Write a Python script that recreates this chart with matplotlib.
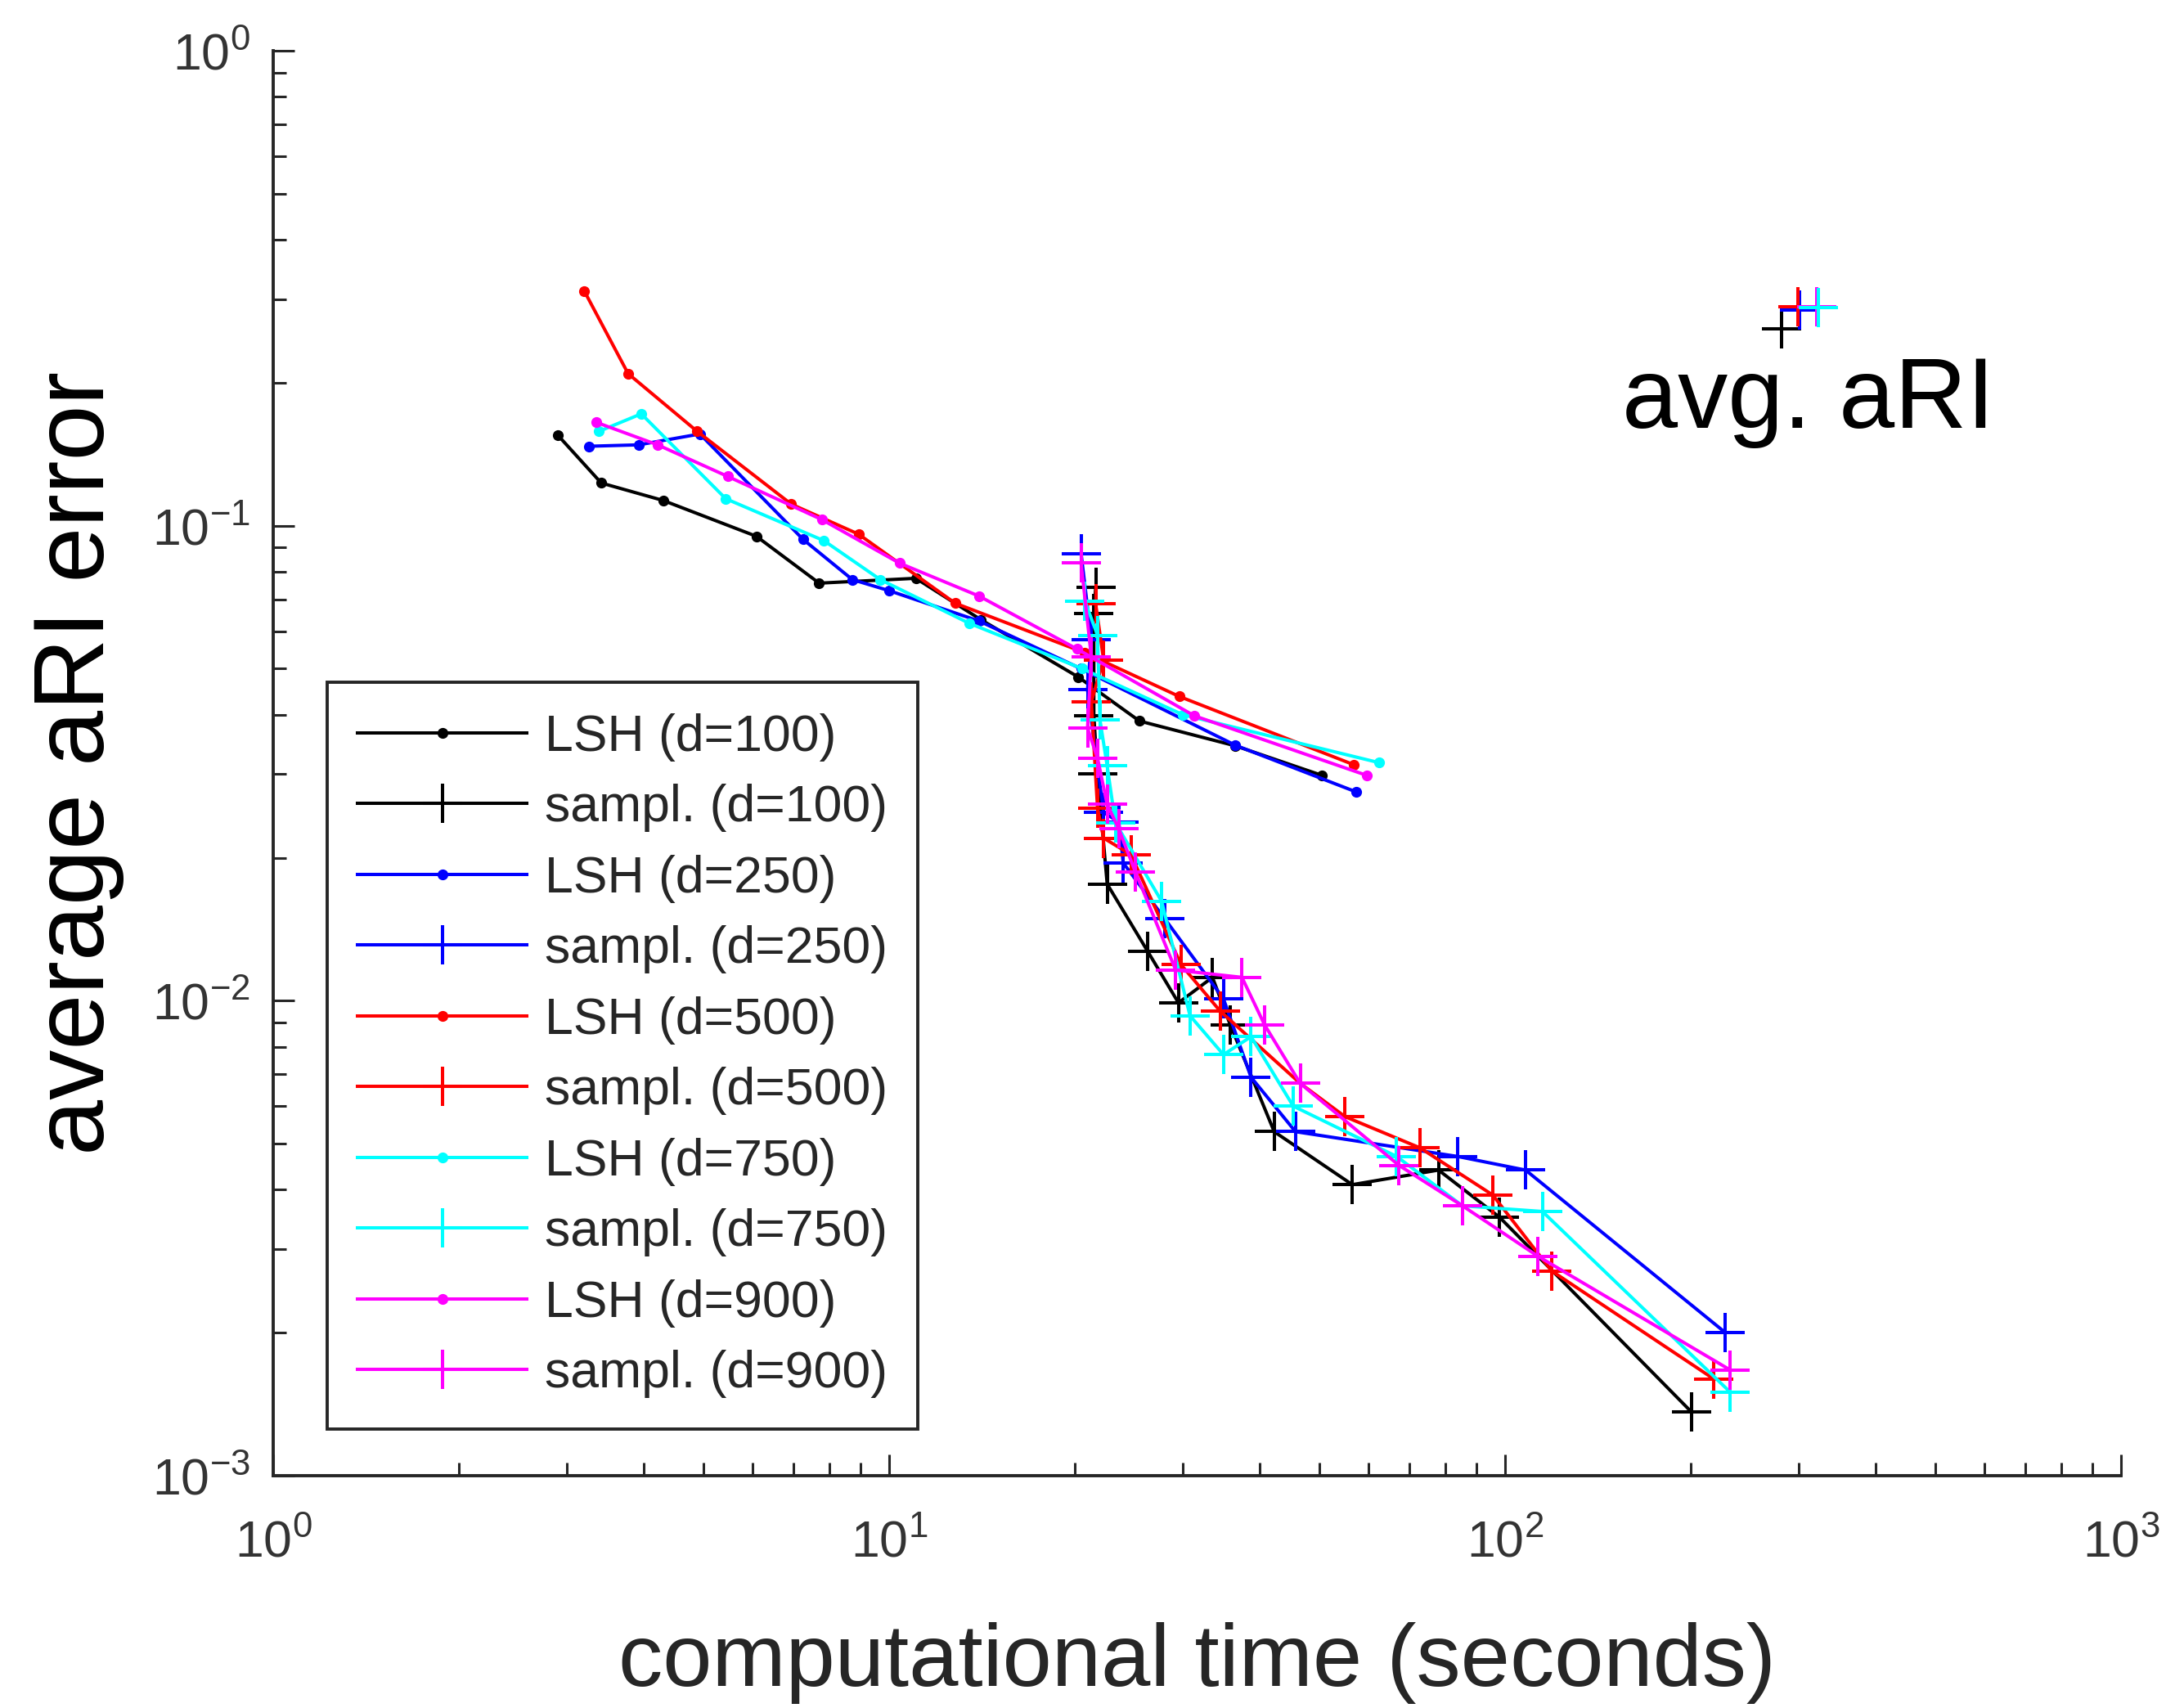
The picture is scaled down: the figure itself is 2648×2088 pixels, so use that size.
import math
import matplotlib
matplotlib.use("Agg")
import matplotlib.pyplot as plt
from matplotlib.ticker import LogLocator, FuncFormatter, NullFormatter

plt.rcParams['font.family'] = ['Liberation Sans', 'DejaVu Sans']
plt.rcParams['mathtext.fontset'] = 'custom'
plt.rcParams['mathtext.rm'] = 'Liberation Sans'
plt.rcParams['mathtext.it'] = 'Liberation Sans'

# LSH curves (time in seconds, average aRI error)
lsh100_t = [2.90, 3.41, 4.30, 6.09, 7.70, 11.05, 14.1, 20.3, 25.5, 36.5, 50.5]
lsh100_e = [0.155, 0.123, 0.113, 0.095, 0.0757, 0.0775, 0.0634, 0.048, 0.0388, 0.0344, 0.0298]
lsh250_t = [3.26, 3.92, 4.93, 7.25, 8.72, 10.0, 14.0, 20.5, 36.5, 57.4]
lsh250_e = [0.147, 0.148, 0.156, 0.0936, 0.077, 0.073, 0.063, 0.050, 0.0345, 0.0275]
lsh500_t = [3.20, 3.77, 4.88, 6.94, 8.92, 12.8, 20.8, 29.6, 56.8]
lsh500_e = [0.312, 0.209, 0.158, 0.111, 0.096, 0.0687, 0.054, 0.0437, 0.0314]
lsh750_t = [3.38, 3.96, 5.43, 7.84, 9.68, 13.5, 20.6, 30.0, 62.5]
lsh750_e = [0.158, 0.172, 0.114, 0.093, 0.077, 0.0623, 0.050, 0.040, 0.0317]
lsh900_t = [3.35, 4.21, 5.47, 7.78, 10.4, 14.0, 20.2, 31.3, 59.7]
lsh900_e = [0.165, 0.148, 0.127, 0.103, 0.0834, 0.0711, 0.055, 0.0398, 0.0298]

# sampling curves
smp100_t = [21.65, 21.5, 21.5, 21.8, 22.6, 26.3, 29.5, 33.5, 35.8, 42.2, 56.5, 78.0, 98.0, 201]
smp100_e = [0.0741, 0.0654, 0.0398, 0.030, 0.0176, 0.0127, 0.0099, 0.0112, 0.0089, 0.0053, 0.0041, 0.0044, 0.0035, 0.00136]
smp250_t = [20.5, 21.3, 21.0, 22.3, 23.6, 24.0, 28.0, 34.9, 38.7, 45.7, 83.8, 108, 228]
smp250_e = [0.0874, 0.0576, 0.0451, 0.0249, 0.0238, 0.0195, 0.0149, 0.0101, 0.0069, 0.0053, 0.0047, 0.0044, 0.0020]
smp500_t = [21.65, 22.3, 21.3, 21.8, 22.3, 24.7, 29.8, 34.5, 46.5, 55.0, 72.8, 95.5, 119, 218]
smp500_e = [0.0684, 0.0522, 0.0426, 0.0254, 0.0220, 0.0203, 0.0119, 0.0095, 0.0067, 0.0057, 0.0049, 0.0039, 0.0027, 0.0016]
smp750_t = [20.8, 21.8, 22.0, 22.6, 23.3, 27.7, 30.8, 34.9, 38.7, 45.3, 66.7, 85.3, 115, 232]
smp750_e = [0.0693, 0.0588, 0.039, 0.0312, 0.0237, 0.0162, 0.0093, 0.0077, 0.0084, 0.0060, 0.0047, 0.0037, 0.0036, 0.0015]
smp900_t = [20.5, 21.3, 21.0, 21.8, 22.6, 23.6, 25.1, 29.2, 37.4, 40.7, 46.5, 67.3, 85.3, 113, 232]
smp900_e = [0.0834, 0.053, 0.0375, 0.0324, 0.0259, 0.0230, 0.0187, 0.0116, 0.0112, 0.0089, 0.0067, 0.0045, 0.0037, 0.0029, 0.00167]

# "avg. aRI" markers, top right
avg_t = [281, 301, 299, 323, 321]
avg_e = [0.260, 0.285, 0.289, 0.288, 0.289]

dims = ['100', '250', '500', '750', '900']
colors = ['#000000', '#0000FF', '#FF0000', '#00FFFF', '#FF00FF']
lsh_t = [lsh100_t, lsh250_t, lsh500_t, lsh750_t, lsh900_t]
lsh_e = [lsh100_e, lsh250_e, lsh500_e, lsh750_e, lsh900_e]
smp_t = [smp100_t, smp250_t, smp500_t, smp750_t, smp900_t]
smp_e = [smp100_e, smp250_e, smp500_e, smp750_e, smp900_e]

fig = plt.figure(figsize=(26.48, 20.88), dpi=100)
ax = fig.add_axes([0.1261, 0.1360, 0.8531, 0.8343])

lw = 2.9
for i in range(5):
    ax.plot(lsh_t[i], lsh_e[i], '-', marker='.', color=colors[i], lw=lw,
            ms=17, label='LSH (d=%s)' % dims[i])
    ax.plot(smp_t[i], smp_e[i], '-', marker='+', color=colors[i], lw=lw,
            ms=34, mew=lw, label='sampl. (d=%s)' % dims[i])

# single markers next to the "avg. aRI" note
for i in [0, 1, 2, 4, 3]:
    ax.plot(avg_t[i], avg_e[i], '+', color=colors[i], ms=34, mew=lw)
ax.text(155, 0.161, 'avg. aRI', fontsize=88, va='baseline', ha='left')

ax.set_xscale('log')
ax.set_yscale('log')
ax.set_xlim(1, 1000)
ax.set_ylim(1e-3, 1)

ax.spines['top'].set_visible(False)
ax.spines['right'].set_visible(False)
for s in ['left', 'bottom']:
    ax.spines[s].set_linewidth(2.8)
    ax.spines[s].set_color('#262626')

ax.xaxis.set_major_locator(LogLocator(base=10, numticks=10))
ax.yaxis.set_major_locator(LogLocator(base=10, numticks=10))
ax.xaxis.set_minor_locator(LogLocator(base=10, subs=range(2, 10), numticks=40))
ax.yaxis.set_minor_locator(LogLocator(base=10, subs=range(2, 10), numticks=40))
fmt = FuncFormatter(lambda v, p: r'$\mathregular{10^{%d}}$' % round(math.log10(v)))
ax.xaxis.set_major_formatter(fmt)
ax.yaxis.set_major_formatter(fmt)
ax.xaxis.set_minor_formatter(NullFormatter())
ax.yaxis.set_minor_formatter(NullFormatter())

ax.tick_params(which='both', direction='in', color='#262626', width=2.2,
               top=False, right=False, labelcolor='#333333')
ax.tick_params(which='major', length=19, labelsize=45)
ax.tick_params(which='minor', length=11.5)
ax.tick_params(axis='x', which='major', pad=38)
ax.tick_params(axis='y', which='major', pad=20)

ax.set_xlabel('computational time (seconds)', fontsize=78, color='#262626')
ax.xaxis.set_label_coords(0.5, -0.1475)
ax.xaxis.label.set_va('baseline')
ax.set_ylabel('average aRI error', fontsize=88, color='#000000')
ax.yaxis.set_label_coords(-0.0916, 0.5)
ax.yaxis.label.set_va('baseline')

leg = ax.legend(loc='upper left', bbox_to_anchor=(0.0292, 0.5568), borderaxespad=0,
                fontsize=45, handlelength=3.3, handletextpad=0.35, borderpad=0.6,
                labelspacing=0.44, numpoints=1, fancybox=False, framealpha=1)
leg.get_frame().set_edgecolor('#262626')
leg.get_frame().set_linewidth(2.8)
for t in leg.get_texts():
    t.set_color('#262626')

fig.savefig('out.png', dpi=100, facecolor='white')
